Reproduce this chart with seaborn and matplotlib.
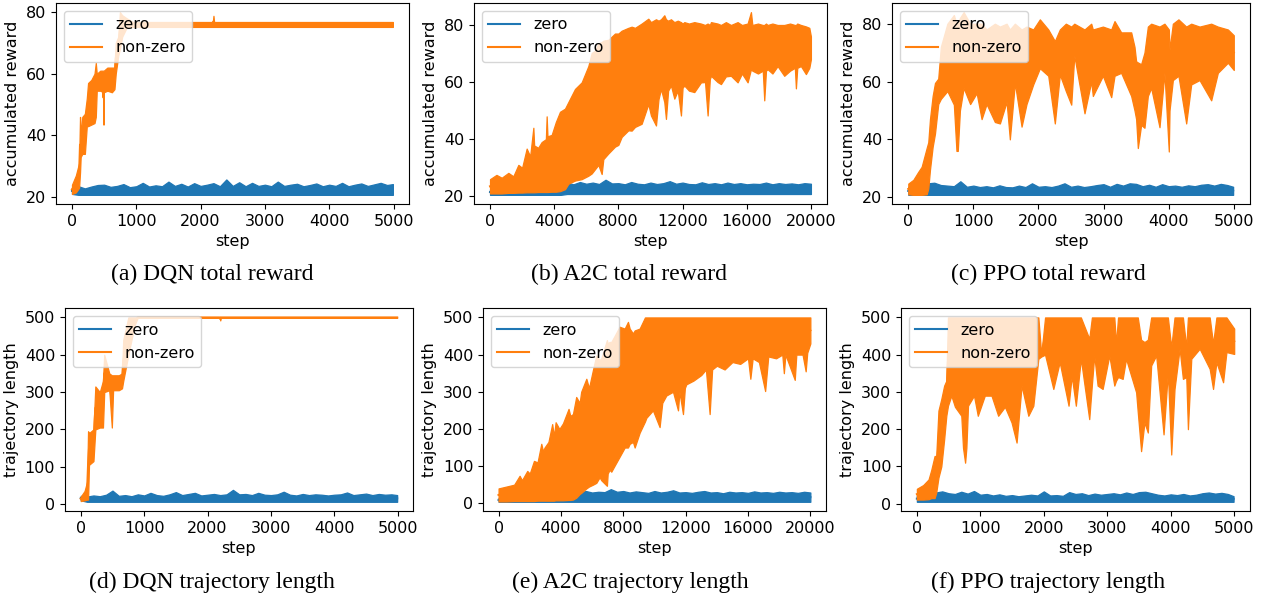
"""
Zero vs non-zero reward shaping: total reward and trajectory length
for DQN, A2C and PPO. Each run is drawn as a noisy band (low/high
envelope read off the original plot) with seaborn's lineplot.
"""
import matplotlib
matplotlib.use("Agg")
import matplotlib.pyplot as plt
import pandas as pd
import seaborn as sns

BLUE, ORANGE = "#1f77b4", "#ff7f0e"
FS = 11.5

# sample positions of the "zero" runs
GRID_5K = [0, 100, 200, 300, 400, 500, 600, 700, 800, 900, 1000, 1100, 1200, 1300, 1400,
           1500, 1600, 1700, 1800, 1900, 2000, 2100, 2200, 2300, 2400, 2500, 2600, 2700,
           2800, 2900, 3000, 3100, 3200, 3300, 3400, 3500, 3600, 3700, 3800, 3900, 4000,
           4100, 4200, 4300, 4400, 4500, 4600, 4700, 4800, 4900, 4990]
GRID_20K = [0, 400, 800, 1200, 1600, 2000, 2400, 2800, 3200, 3600, 4000, 4400, 4800, 5200,
            5600, 6000, 6400, 6800, 7200, 7600, 8000, 8400, 8800, 9200, 9600, 10000, 10400,
            10800, 11200, 11600, 12000, 12400, 12800, 13200, 13600, 14000, 14400, 14800,
            15200, 15600, 16000, 16400, 16800, 17200, 17600, 18000, 18400, 18800, 19200,
            19600, 20000]

# ---- (a) DQN total reward --------------------------------------------
dqn_rew_zero_low = [21.0] + [20.7] * 50
dqn_rew_zero_high = [23.0, 23.5, 22.8, 23.4, 23.9, 24.0, 23.3, 23.6, 24.2, 23.2,
                     23.5, 24.6, 23.4, 23.8, 23.5, 25.0, 23.6, 24.3, 23.4, 24.5,
                     23.6, 24.0, 24.5, 23.5, 25.7, 23.6, 24.8, 23.5, 24.6, 23.6,
                     24.0, 23.5, 25.0, 23.6, 24.0, 24.3, 23.5, 23.9, 24.4, 23.5,
                     24.0, 23.6, 24.6, 23.5, 24.0, 24.4, 23.6, 24.1, 24.6, 23.9, 24.2]
dqn_rew_nz_step = [0, 60, 110, 125, 135, 160, 200, 230, 250, 300, 350, 370, 385, 440, 485, 490,
                   495, 550, 620, 660, 680, 720, 745, 780, 850, 950, 1200, 1500, 1800, 2000,
                   2190, 2200, 2210, 2500, 3000, 3500, 4000, 4500, 4990]
dqn_rew_nz_low = [21, 21.5, 23, 28, 33, 34, 34, 43, 43, 43.5, 44, 46, 54.5, 54.5, 54, 43.5,
                  54, 54.5, 54, 55, 60, 66, 68, 72, 75, 75.2, 75.2, 75.2, 75.2, 75.2,
                  75.2, 75.2, 75.2, 75.2, 75.2, 75.2, 75.2, 75.2, 75.2]
dqn_rew_nz_high = [24, 27, 31, 46, 40, 46, 47, 52, 57, 58, 60, 63.5, 60, 61, 61, 61,
                   61, 62, 62, 62, 70, 72, 80, 79, 78, 76.8, 76.8, 76.8, 76.8, 76.8,
                   76.8, 78.8, 76.8, 76.8, 76.8, 76.8, 76.8, 76.8, 76.8]

# ---- (b) A2C total reward --------------------------------------------
a2c_rew_zero_low = [20.5] * 12 + [20.8] * 39
a2c_rew_zero_high = [22.5, 22.0, 22.3, 22.0, 22.6, 22.2, 22.5, 22.3, 22.8, 22.4, 23.5, 23.0,
                     24.8, 24.2, 25.0, 24.4, 24.8, 24.3, 25.8, 24.5, 24.6, 24.2, 25.0, 24.4,
                     24.2, 24.8, 24.3, 24.6, 25.3, 24.4, 24.8, 24.3, 24.2, 24.9, 24.3, 24.6,
                     24.2, 24.8, 24.3, 24.6, 24.2, 24.4, 24.3, 24.8, 24.2, 24.6, 24.3, 24.5,
                     24.2, 24.6, 24.4]
a2c_rew_nz_step = [0, 400, 727, 1142, 1450, 1765, 2000, 2284, 2500, 2700, 2750, 3000, 3219,
                   3480, 3530, 3580, 3842, 4100, 4361, 4673, 4880, 5296, 5712, 6127, 6335,
                   6543, 6750, 6958, 7061, 7373, 7788, 7996, 8204, 8619, 8827, 9035, 9450,
                   9865, 10031, 10343, 10500, 10654, 10862, 10965, 11100, 11277, 11485,
                   11700, 11900, 12000, 12108, 12400, 12731, 13146, 13400, 13562, 13700,
                   13770, 14185, 14392, 14700, 15015, 15431, 15700, 16054, 16262, 16350,
                   16700, 17000, 17092, 17200, 17300, 17600, 17923, 18338, 18700, 19000,
                   19065, 19150, 19377, 19688, 19900, 20000]
a2c_rew_nz_low = [21, 21, 21, 21.2, 21.2, 21.3, 21.3, 21.4, 21.4, 21.4, 21.4, 21.5, 21.5,
                  21.5, 21.5, 21.5, 21.6, 21.6, 21.8, 22.5, 24.4, 25.5, 26, 27.2, 28,
                  29.5, 31, 27.8, 33, 35, 37.4, 38, 40.8, 43.1, 43, 44.3, 45.4,
                  52.3, 48.3, 44.8, 54, 57.6, 53, 47.1, 57, 58.8, 54.2,
                  57, 48.3, 58, 58.8, 57, 56.5, 59.9, 60, 48.3, 61,
                  62.2, 60, 59.3, 62, 62.2, 59.9, 63, 59.9, 64.5, 64,
                  63, 64, 53.6, 64, 64.5, 63, 65.6, 62.2, 64, 65,
                  57.8, 65, 65.6, 62.8, 65, 68]
a2c_rew_nz_high = [26, 27.5, 26.5, 28.2, 27, 31, 30, 36.7, 34, 44, 37.8, 37, 39,
                   40, 48, 41, 41.5, 46, 49.6, 50.7, 53, 57.6, 59.9, 65.6, 70.2,
                   71, 73.6, 74, 74.5, 74.8, 77, 77, 78, 79, 79.4, 79, 80.5,
                   82.2, 81, 82, 81.5, 82, 83.4, 82, 81.5, 82, 81,
                   81.5, 81, 80.5, 81, 80.5, 81, 80.5, 80, 80.5, 80,
                   81, 80.5, 80, 81, 80, 81, 80, 80.5, 84.5, 80,
                   80.5, 80, 80, 80.5, 80, 80.5, 80, 80, 80.5, 80,
                   80, 80.5, 80, 79.5, 79, 76]

# ---- (c) PPO total reward --------------------------------------------
ppo_rew_zero_low = [20.8] * 51
ppo_rew_zero_high = [23.5, 23.4, 23.6, 24.8, 25.0, 24.2, 24.0, 23.8, 25.5, 23.6,
                     24.0, 23.5, 23.8, 23.4, 24.1, 23.5, 23.4, 24.0, 23.5, 24.8,
                     23.6, 23.8, 23.5, 24.0, 24.8, 23.6, 24.0, 23.5, 23.8, 24.2,
                     24.5, 23.6, 24.6, 24.0, 24.8, 24.6, 23.8, 24.3, 23.6, 24.5,
                     23.8, 24.0, 23.6, 24.1, 23.8, 24.3, 24.5, 24.0, 24.6, 24.2, 23.6]
ppo_rew_nz_step = [0, 77, 154, 205, 282, 307, 333, 374, 410, 460, 500, 600, 700, 740, 760,
                   793, 850, 950, 1050, 1126, 1202, 1330, 1407, 1510, 1560, 1637, 1740,
                   1816, 1919, 2021, 2150, 2251, 2328, 2420, 2503, 2550, 2707, 2810, 2835,
                   2989, 3117, 3168, 3270, 3424, 3475, 3500, 3526, 3577, 3628, 3680, 3731,
                   3859, 3935, 4002, 4013, 4064, 4150, 4269, 4346, 4474, 4653, 4755, 4909,
                   5000]
ppo_rew_nz_low = [21, 20.8, 20.8, 20.8, 21, 23, 29.5, 37.4, 42, 52.2, 54, 56.7, 52, 36, 36,
                  50, 57.8, 52.2, 56, 47, 52.2, 46, 45.5, 53, 40, 59.5, 44.4,
                  52.2, 59, 64.6, 62, 45.5, 62.4, 56.7, 52, 69, 49, 60, 55,
                  62, 54.6, 62, 63, 55, 50, 47, 37, 45, 44, 55, 57.8,
                  44.2, 63, 35.8, 50, 60.5, 62, 45.5, 59, 60.5, 53.5, 63, 66.5,
                  64]
ppo_rew_nz_high = [24.7, 26, 28.8, 30.5, 37, 39, 47, 55, 59.5, 61, 72, 80, 83, 80, 80,
                   82, 84, 80, 80, 80, 78, 80, 79, 80, 78, 80, 78,
                   79, 78, 81.5, 78, 74, 78, 80, 79, 80, 78, 80, 78,
                   79, 78, 80.9, 77, 77, 72, 67, 66.6, 66, 70, 79, 80,
                   79, 80, 78, 71, 80, 81.5, 79, 80, 79, 80, 79, 78,
                   76]

# ---- (d) DQN trajectory length ---------------------------------------
dqn_len_zero_low = [10] + [6] * 50
dqn_len_zero_high = [22, 20, 23, 21, 25, 36, 22, 24, 21, 26, 23, 30, 24, 22, 26, 32, 24,
                     27, 30, 23, 25, 27, 24, 26, 38, 26, 27, 24, 30, 25, 24, 26, 33, 25,
                     23, 27, 24, 26, 25, 23, 25, 26, 31, 24, 26, 28, 24, 27, 25, 26, 24]
dqn_len_nz_step = [0, 60, 100, 115, 130, 200, 230, 300, 350, 370, 450, 490, 510, 600, 650,
                   670, 750, 850, 900, 2190, 2200, 2210, 4990]
dqn_len_nz_low = [8, 10, 12, 12, 105, 115, 200, 205, 205, 300, 305, 205, 305, 305, 310,
                  330, 400, 480, 500, 500, 492, 500, 500]
dqn_len_nz_high = [20, 35, 60, 195, 190, 200, 315, 300, 330, 400, 350, 345, 345, 345, 350,
                   440, 500, 500, 500, 500, 500, 500, 500]

# ---- (e) A2C trajectory length ---------------------------------------
a2c_len_zero_low = [4] * 51
a2c_len_zero_high = [14, 12, 13, 11, 12, 14, 12, 13, 15, 12, 16, 14,
                     32, 30, 33, 29, 31, 30, 38, 31, 33, 29, 32, 30,
                     28, 33, 29, 31, 35, 29, 30, 28, 31, 33, 29, 30,
                     27, 31, 29, 30, 28, 32, 29, 30, 28, 31, 29, 30,
                     28, 31, 29]
a2c_len_nz_step = [0, 500, 1000, 1350, 1500, 1840, 2000, 2270, 2500, 2740, 2850, 2950,
                   3200, 3440, 3550, 3660, 3900, 4130, 4490, 4600, 4770, 4980, 5200, 5300,
                   5630, 5800, 6050, 6270, 6480, 6590, 6950, 7000, 7120, 7230, 7440, 7760,
                   8090, 8300, 8410, 8620, 8730, 9050, 9390, 9480, 9900, 10330, 10500,
                   10760, 11190, 11510, 11600, 11830, 11950, 12040, 12500, 13000, 13300,
                   13540, 13700, 14000, 14500, 15000, 15500, 16000, 16150, 16300, 16700,
                   17100, 17300, 17800, 18200, 18300, 18400, 19000, 19100, 19500, 19700,
                   19800, 20000]
a2c_len_nz_low = [5, 5, 6, 6, 6, 6, 6, 6, 7, 7, 7, 7,
                  7, 7, 7, 8, 8, 8, 9, 9, 10, 15, 25, 28,
                  40, 45, 50, 55, 70, 62, 47, 80, 90, 85, 101, 125,
                  150, 150, 160, 165, 150, 190, 220, 230, 250, 205, 270,
                  290, 300, 250, 300, 240, 310, 320, 330, 345, 360,
                  240, 360, 370, 360, 380, 375, 390, 335, 390, 380,
                  302, 395, 390, 400, 350, 400, 332, 400, 400, 355,
                  405, 430]
a2c_len_nz_high = [40, 45, 50, 74, 62, 87, 80, 114, 110, 160, 140, 150,
                   165, 213, 180, 218, 200, 215, 254, 235, 240, 286, 270, 300,
                   335, 310, 358, 398, 385, 390, 439, 430, 434, 434, 450, 475,
                   470, 488, 470, 457, 465, 470, 500, 500, 500, 500, 500,
                   500, 500, 500, 500, 500, 500, 500, 500, 500, 500,
                   500, 500, 500, 500, 500, 500, 500, 500, 500, 500,
                   500, 500, 500, 500, 500, 500, 500, 500, 500, 500,
                   500, 500]

# ---- (f) PPO trajectory length ---------------------------------------
ppo_len_zero_low = [5] * 51
ppo_len_zero_high = [22, 20, 24, 30, 33, 28, 26, 32, 27, 34, 24, 26, 22, 25, 21, 23, 20,
                     22, 24, 22, 33, 22, 23, 21, 31, 26, 28, 23, 27, 24, 26, 28, 25, 30,
                     26, 31, 32, 28, 24, 22, 25, 23, 26, 22, 24, 28, 30, 27, 29, 26, 20]
ppo_len_nz_step = [0, 100, 184, 226, 279, 305, 340, 385, 430, 464, 490, 543, 600, 700, 727,
                   760, 780, 806, 900, 960, 1070, 1176, 1281, 1387, 1492, 1571, 1650, 1756,
                   1835, 1914, 1960, 2020, 2150, 2250, 2390, 2440, 2505, 2584, 2716, 2758,
                   2795, 2848, 2927, 3032, 3111, 3138, 3170, 3243, 3296, 3455, 3481, 3533,
                   3586, 3639, 3692, 3771, 3887, 3955, 4008, 4060, 4140, 4192, 4245, 4271,
                   4324, 4456, 4614, 4667, 4720, 4825, 4878, 5000]
ppo_len_nz_low = [11, 11, 12, 15, 15, 30, 70, 100, 173, 236, 263, 290, 260, 236, 150,
                  110, 150, 263, 290, 236, 290, 290, 236, 260, 218, 164, 317, 236,
                  263, 389, 395, 400, 308, 380, 263, 343, 263, 389, 227, 320,
                  398, 317, 308, 398, 317, 330, 340, 335, 389, 299, 245, 141,
                  218, 191, 371, 398, 186, 353, 132, 308, 416, 335, 340, 200,
                  389, 416, 362, 308, 380, 326, 407, 402]
ppo_len_nz_high = [40, 50, 65, 90, 128, 128, 250, 281, 317, 330, 500, 500, 500, 500, 500,
                   500, 500, 500, 500, 500, 500, 500, 500, 500, 500, 500, 500, 500,
                   500, 500, 400, 500, 500, 500, 500, 500, 500, 500, 443, 500,
                   500, 500, 500, 500, 500, 430, 500, 500, 500, 500, 500, 440,
                   434, 440, 500, 500, 500, 500, 420, 500, 500, 500, 420, 500,
                   500, 500, 500, 430, 500, 500, 500, 470]

STEP_5K = [0, 1000, 2000, 3000, 4000, 5000]
STEP_20K = [0, 4000, 8000, 12000, 16000, 20000]
REWARD_TICKS = [20, 40, 60, 80]
LENGTH_TICKS = [0, 100, 200, 300, 400, 500]


def band_frame(step, low, high, label):
    step = list(step)
    return pd.DataFrame({"step": step + step, "value": list(low) + list(high), "run": label})


def draw_panel(ax, zero, nonzero, ylabel, xticks, yticks):
    df = pd.concat([band_frame(*zero, "zero"), band_frame(*nonzero, "non-zero")],
                   ignore_index=True)
    # min..max band per step, drawn opaque so it reads like a dense noisy trace
    sns.lineplot(data=df, x="step", y="value", hue="run", hue_order=["zero", "non-zero"],
                 palette=[BLUE, ORANGE], errorbar=("pi", 100),
                 err_kws={"alpha": 1, "linewidth": 0.9}, linewidth=1.5, ax=ax)
    # same zorder for lines and bands -> drawing order decides (orange on top)
    for art in ax.lines + ax.collections:
        art.set_zorder(2)
    leg = ax.get_legend()
    handles = leg.legend_handles
    labels = [t.get_text() for t in leg.get_texts()]
    ax.legend(handles, labels, loc="upper left", fontsize=FS)
    ax.set_xticks(xticks)
    ax.set_yticks(yticks)
    ax.set_xlabel("step", fontsize=FS)
    ax.set_ylabel(ylabel, fontsize=FS)
    ax.tick_params(labelsize=FS)


fig = plt.figure(figsize=(12.66, 6.0), dpi=100)

# axes boxes in figure fractions (left, bottom, width, height)
boxes = [
    (0.0442, 0.660, 0.2788, 0.335),
    (0.3744, 0.660, 0.2788, 0.335),
    (0.7046, 0.660, 0.2828, 0.335),
    (0.0513, 0.1483, 0.2749, 0.338),
    (0.3815, 0.1483, 0.2709, 0.338),
    (0.7117, 0.1483, 0.2757, 0.338),
]
panels = [
    ((GRID_5K, dqn_rew_zero_low, dqn_rew_zero_high),
     (dqn_rew_nz_step, dqn_rew_nz_low, dqn_rew_nz_high),
     "accumulated reward", STEP_5K, REWARD_TICKS, "(a) DQN total reward"),
    ((GRID_20K, a2c_rew_zero_low, a2c_rew_zero_high),
     (a2c_rew_nz_step, a2c_rew_nz_low, a2c_rew_nz_high),
     "accumulated reward", STEP_20K, REWARD_TICKS, "(b) A2C total reward"),
    ((GRID_5K, ppo_rew_zero_low, ppo_rew_zero_high),
     (ppo_rew_nz_step, ppo_rew_nz_low, ppo_rew_nz_high),
     "accumulated reward", STEP_5K, REWARD_TICKS, "(c) PPO total reward"),
    ((GRID_5K, dqn_len_zero_low, dqn_len_zero_high),
     (dqn_len_nz_step, dqn_len_nz_low, dqn_len_nz_high),
     "trajectory length", STEP_5K, LENGTH_TICKS, "(d) DQN trajectory length"),
    ((GRID_20K, a2c_len_zero_low, a2c_len_zero_high),
     (a2c_len_nz_step, a2c_len_nz_low, a2c_len_nz_high),
     "trajectory length", STEP_20K, LENGTH_TICKS, "(e) A2C trajectory length"),
    ((GRID_5K, ppo_len_zero_low, ppo_len_zero_high),
     (ppo_len_nz_step, ppo_len_nz_low, ppo_len_nz_high),
     "trajectory length", STEP_5K, LENGTH_TICKS, "(f) PPO trajectory length"),
]
caption_pos = [(212, 274), (629, 274), (1048, 274), (212, 582), (630, 582), (1048, 582)]

for box, (zero, nonzero, ylabel, xt, yt, caption), (cx, cy) in zip(boxes, panels, caption_pos):
    for s in (zero, nonzero):
        assert len(s[0]) == len(s[1]) == len(s[2]), caption
    ax = fig.add_axes(box)
    draw_panel(ax, zero, nonzero, ylabel, xt, yt)
    fig.text(cx / 1266, 1 - cy / 600, caption, ha="center", va="center",
             family="Liberation Serif", fontsize=17)

fig.savefig("out.png", dpi=100)
